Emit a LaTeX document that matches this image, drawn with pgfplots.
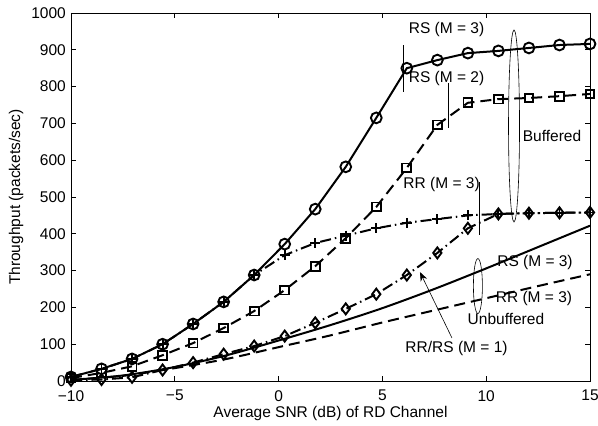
\documentclass[border=0pt]{standalone}
\usepackage{fontspec}
\setmainfont{Liberation Sans}
\usepackage{pgfplots}
\pgfplotsset{compat=1.18}
\usetikzlibrary{arrows.meta}
\newcommand{\fs}{\fontsize{15.5}{18}\selectfont}
\begin{document}
\fs
\begin{tikzpicture}
\begin{axis}[name=ax, scale only axis, width=519pt, height=368pt,
  xmin=-10, xmax=15, ymin=0, ymax=1000,
  xtick={-10,-5,0,5,10,15}, xticklabels={−10,−5,0,5,10,15},
  ytick={0,100,200,300,400,500,600,700,800,900,1000},
  yticklabels={0,100,200,300,400,500,600,700,800,900,1000},
  tick align=inside, major tick length=5pt,
  axis line style={line width=0.9pt},
  every tick/.style={black, line width=0.9pt},
  tick label style={font=\fs},
  xticklabel style={inner sep=0.5pt, yshift=-8.5pt},
  yticklabel style={inner sep=0.5pt, xshift=-4.5pt},
  label style={font=\fs},
  xlabel={Average SNR (dB) of RD Channel},
  ylabel={Throughput (packets/sec)},
  xlabel style={at={(axis description cs:0.5,0)}, anchor=center, yshift=-32pt},
  ylabel style={at={(axis description cs:0,0.5)}, anchor=center, rotate=0, yshift=55pt},
  clip=false,
  every axis plot/.append style={line width=2pt, black},
  mark options={solid, line width=1.9pt},
]
% Unbuffered RS (M=3)
\addplot[solid, no markers, smooth] coordinates {(-10,3)(-7.5,15)(-5,38)(-2.5,70)(0,110)(2.5,152)(5,198)(7.5,250)(10,306)(12.5,364)(15,422)};
% Unbuffered RR (M=3)
\addplot[dash pattern=on 11pt off 6pt, no markers, smooth] coordinates {(-10,3)(-7.5,14)(-5,35)(-2.5,60)(0,92)(2.5,124)(5,159)(7.5,192)(10,225)(12.5,258)(15,290)};
% Buffered RR/RS (M=1)
\addplot[dash pattern=on 11pt off 4pt on 1.5pt off 4pt, mark=diamond, mark size=5.5pt] coordinates {
(-10,2)(-8.529,4)(-7.059,10)(-5.588,30)(-4.118,50)(-2.647,73)(-1.176,95)(0.294,122)(1.765,158)(3.235,196)(4.706,236)(6.176,288)(7.647,348)(9.118,415)(10.588,454)(12.059,456)(13.529,457)(15,458)};
% Buffered RR (M=3)
\addplot[dash pattern=on 11pt off 4pt on 1.5pt off 4pt, mark=+, mark size=5pt] coordinates {
(-10,11)(-8.529,33)(-7.059,60)(-5.588,100)(-4.118,155)(-2.647,215)(-1.176,288)(0.294,342)(1.765,375)(3.235,395)(4.706,415)(6.176,430)(7.647,440)(9.118,450)(10.588,454)(12.059,456)(13.529,457)(15,458)};
% Buffered RS (M=2)
\addplot[dash pattern=on 11pt off 6pt, mark=square, mark size=4.4pt] coordinates {
(-10,8)(-8.529,22)(-7.059,40)(-5.588,70)(-4.118,103)(-2.647,144)(-1.176,190)(0.294,247)(1.765,312)(3.235,388)(4.706,473)(6.176,579)(7.647,696)(9.118,756)(10.588,766)(12.059,769)(13.529,774)(15,780)};
% Buffered RS (M=3)
\addplot[solid, mark=o, mark size=5.4pt] coordinates {
(-10,11)(-8.529,33)(-7.059,60)(-5.588,100)(-4.118,155)(-2.647,215)(-1.176,288)(0.294,372)(1.765,467)(3.235,582)(4.706,715)(6.176,850)(7.647,872)(9.118,891)(10.588,897)(12.059,905)(13.529,913)(15,916)};
% annotations
\draw[line width=0.6pt] (axis cs:5.99,913) -- (axis cs:5.99,785);
\draw[line width=0.6pt] (axis cs:8.16,810) -- (axis cs:8.16,688);
\draw[line width=0.6pt] (axis cs:9.65,541) -- (axis cs:9.65,397);
\draw[line width=0.6pt] (axis cs:11.34,693) ellipse [x radius=5.5pt, y radius=96pt];
\draw[line width=0.6pt] (axis cs:9.60,258) ellipse [x radius=4.5pt, y radius=27.5pt];
\node[font=\fs] at (axis cs:8.09,954) {RS (M = 3)};
\node[font=\fs] at (axis cs:8.09,823) {RS (M = 2)};
\node[font=\fs] at (axis cs:7.85,533) {RR (M = 3)};
\node[font=\fs] at (axis cs:13.17,666) {Buffered};
\node[font=\fs] at (axis cs:12.35,321) {RS (M = 3)};
\node[font=\fs] at (axis cs:12.30,223) {RR (M = 3)};
\node[font=\fs] at (axis cs:10.95,168) {Unbuffered};
\node[font=\fs] at (axis cs:8.57,87) {RR/RS (M = 1)};
\draw[line width=0.6pt, -{Stealth[length=9pt, width=7pt]}] (axis cs:8.35,117) -- (axis cs:6.81,296);
\end{axis}
\pgfresetboundingbox
\path[use as bounding box] ([shift={(-71pt,-44pt)}]ax.south west) rectangle ([shift={(8pt,13pt)}]ax.north east);
\end{tikzpicture}
\end{document}
